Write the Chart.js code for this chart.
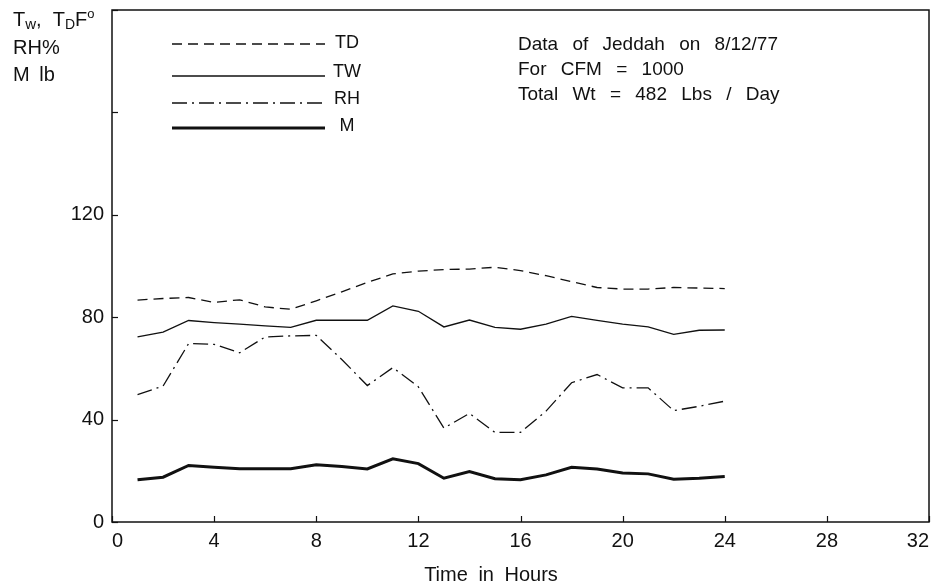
<!DOCTYPE html>
<html>
<head>
<meta charset="utf-8">
<script src="https://cdn.jsdelivr.net/npm/chart.js@4/dist/chart.umd.min.js"></script>
<style>
  html, body { margin: 0; padding: 0; background: #ffffff; }
  canvas { display: block; }
</style>
</head>
<body>
<canvas id="chart" width="933" height="586"></canvas>
<script>
// Hourly readings, Jeddah 8/12/77
const hours    = [1, 2, 3, 4, 5, 6, 7, 8, 9, 10, 11, 12, 13, 14, 15, 16, 17, 18, 19, 20, 21, 22, 23, 24];
const tdTemp   = [86.7, 87.3, 87.7, 85.8, 86.8, 84.0, 83.1, 86.4, 89.9, 93.6, 96.9, 98.0, 98.6, 98.8, 99.5, 98.2, 96.2, 93.9, 91.6, 91.0, 91.0, 91.6, 91.4, 91.2];
const twTemp   = [72.3, 74.2, 78.7, 77.9, 77.3, 76.6, 76.0, 78.8, 78.8, 78.8, 84.4, 82.3, 76.2, 78.9, 76.0, 75.3, 77.3, 80.3, 78.8, 77.3, 76.2, 73.3, 74.9, 75.0];
const relHum   = [49.8, 53.1, 69.7, 69.4, 66.1, 72.3, 72.7, 72.9, 63.5, 53.3, 60.3, 52.8, 36.7, 42.4, 35.0, 35.0, 43.3, 54.4, 57.6, 52.4, 52.4, 43.5, 45.2, 47.2];
const moisture = [16.5, 17.5, 22.1, 21.4, 20.8, 20.8, 20.8, 22.4, 21.7, 20.7, 24.7, 22.8, 17.1, 19.7, 16.9, 16.5, 18.4, 21.4, 20.7, 19.1, 18.8, 16.7, 17.1, 17.8];

const seriesNames  = ['TD', 'TW', 'RH', 'M'];
const xTickValues  = [0, 4, 8, 12, 16, 20, 24, 28, 32];
const yTickLabels  = [0, 40, 80, 120];
const yTickValues  = [0, 40, 80, 120, 160, 200];
const noteLines    = ['Data of Jeddah on 8/12/77', 'For CFM = 1000', 'Total Wt = 482 Lbs / Day'];
const axisTitleX   = 'Time in Hours';

const FONT = '"Liberation Sans", Arial, Helvetica, sans-serif';
const INK = '#111111';

const toPoints = vals => hours.map((h, i) => ({ x: h, y: vals[i] }));

const lineStyles = [
  { borderWidth: 1.3, borderDash: [10, 6] },
  { borderWidth: 1.3, borderDash: [] },
  { borderWidth: 1.3, borderDash: [15, 5, 2, 5] },
  { borderWidth: 3.0, borderDash: [] }
];

const datasets = [tdTemp, twTemp, relHum, moisture].map((vals, i) => ({
  label: seriesNames[i],
  data: toPoints(vals),
  borderColor: INK,
  borderWidth: lineStyles[i].borderWidth,
  borderDash: lineStyles[i].borderDash,
  pointRadius: 0,
  tension: 0,
  fill: false
}));

const setSpacing = (ctx, px) => { if ('wordSpacing' in ctx) ctx.wordSpacing = px + 'px'; };

// Frame, inward ticks, key, notes and captions drawn on top of the plot
const decorations = {
  id: 'decorations',
  afterDraw(chart) {
    const { ctx, chartArea: a, scales } = chart;
    const xs = scales.x, ys = scales.y;
    ctx.save();
    ctx.strokeStyle = INK;
    ctx.lineWidth = 1.5;
    ctx.setLineDash([]);
    ctx.strokeRect(a.left, a.top, a.right - a.left, a.bottom - a.top);

    ctx.lineWidth = 1.2;
    xTickValues.forEach(v => {
      const px = Math.round(xs.getPixelForValue(v)) + 0.5;
      ctx.beginPath(); ctx.moveTo(px, a.bottom); ctx.lineTo(px, a.bottom - 6); ctx.stroke();
    });
    yTickValues.forEach(v => {
      const py = Math.round(ys.getPixelForValue(v)) + 0.5;
      ctx.beginPath(); ctx.moveTo(a.left, py); ctx.lineTo(a.left + 6, py); ctx.stroke();
    });

    // Key: long line samples with names to the right
    const lineY = [44, 76, 103, 128];
    const textY = [43, 72, 99, 126];
    chart.data.datasets.forEach((ds, i) => {
      ctx.save();
      ctx.strokeStyle = ds.borderColor;
      ctx.lineWidth = ds.borderWidth;
      ctx.setLineDash(ds.borderDash || []);
      ctx.beginPath(); ctx.moveTo(172, lineY[i]); ctx.lineTo(325, lineY[i]); ctx.stroke();
      ctx.restore();
      ctx.fillStyle = INK;
      ctx.font = '18px ' + FONT;
      ctx.textAlign = 'center';
      ctx.textBaseline = 'middle';
      ctx.fillText(ds.label, 347, textY[i]);
    });

    // Notes
    ctx.fillStyle = INK;
    ctx.font = '19px ' + FONT;
    ctx.textAlign = 'left';
    ctx.textBaseline = 'middle';
    setSpacing(ctx, 9);
    noteLines.forEach((t, i) => ctx.fillText(t, 518, 45 + i * 25));

    // X axis caption
    ctx.font = '20px ' + FONT;
    ctx.textAlign = 'center';
    setSpacing(ctx, 5);
    ctx.fillText(axisTitleX, 491, 575);
    setSpacing(ctx, 0);

    // Y axis caption, top left
    ctx.textAlign = 'left';
    let x = 13;
    const y0 = 20;
    const part = (txt, size, dy) => {
      ctx.font = size + 'px ' + FONT;
      ctx.fillText(txt, x, y0 + dy);
      x += ctx.measureText(txt).width;
    };
    part('T', 20, 0); part('w', 15, 5); part(',  T', 20, 0); part('D', 14, 5); part('F', 20, 0); part('o', 13, -6);
    ctx.font = '20px ' + FONT;
    ctx.fillText('RH%', 13, 48);
    setSpacing(ctx, 4);
    ctx.fillText('M lb', 13, 75);
    setSpacing(ctx, 0);
    ctx.restore();
  }
};

new Chart(document.getElementById('chart'), {
  type: 'line',
  data: { datasets },
  options: {
    responsive: false,
    animation: false,
    devicePixelRatio: 1,
    layout: { padding: { left: 0, top: 10, right: 4, bottom: 0 } },
    plugins: { legend: { display: false }, tooltip: { enabled: false } },
    scales: {
      x: {
        type: 'linear',
        min: 0, max: 32,
        afterBuildTicks: s => { s.ticks = xTickValues.map(v => ({ value: v })); },
        ticks: { color: INK, font: { family: FONT, size: 20 }, padding: 7, maxRotation: 0, autoSkip: false, align: 'inner' },
        grid: { display: false, drawTicks: false },
        border: { display: false },
        afterFit: s => { s.height = 64; s.paddingLeft = 0; s.paddingRight = 0; }
      },
      y: {
        min: 0, max: 200,
        afterBuildTicks: s => { s.ticks = yTickValues.map(v => ({ value: v })); },
        ticks: {
          color: INK, font: { family: FONT, size: 20 }, padding: 8,
          callback: v => yTickLabels.includes(v) ? String(v) : ''
        },
        grid: { display: false, drawTicks: false },
        border: { display: false },
        afterFit: s => { s.width = 112; s.paddingTop = 0; s.paddingBottom = 0; }
      }
    }
  },
  plugins: [decorations]
});
</script>
</body>
</html>
